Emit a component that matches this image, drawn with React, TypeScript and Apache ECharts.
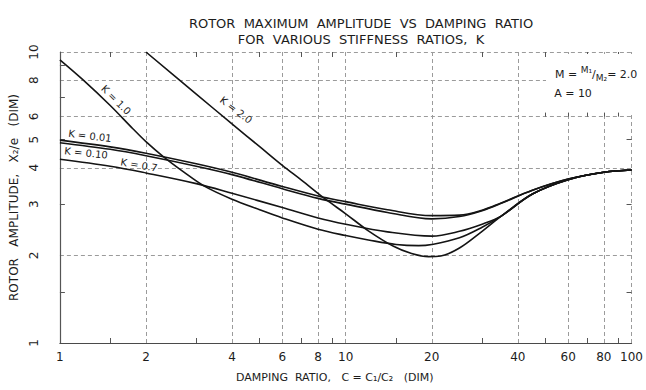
import React, { useEffect, useRef } from "react";
import * as echarts from "echarts";

const FONT = "DejaVu Sans";

const xMajor = [1, 2, 4, 6, 8, 10, 20, 40, 60, 80, 100];
const xMinor = [1.5, 3, 5, 7, 9, 15, 30, 50, 70, 90];
const xInsetTicks = [50, 60, 70, 80, 90];
const yGrid = [1, 2, 4, 6, 8, 10];
const yLabels = [1, 2, 3, 4, 5, 6, 8, 10];
const yMinor = [1.5, 3, 5, 7, 9];

const xFlat = [1, 1.5, 2, 3, 4, 6, 8, 10, 14, 20, 25, 30, 35, 45, 60, 80, 100];
const k001 = [4.98, 4.72, 4.49, 4.13, 3.86, 3.45, 3.2, 3.06, 2.87, 2.74, 2.75, 2.86, 3.03, 3.35, 3.66, 3.86, 3.93];
const k010 = [4.88, 4.63, 4.4, 4.05, 3.79, 3.39, 3.14, 3.0, 2.81, 2.67, 2.72, 2.85, 3.02, 3.35, 3.66, 3.86, 3.93];
const k07 = [4.28, 4.05, 3.84, 3.53, 3.27, 2.92, 2.69, 2.56, 2.41, 2.33, 2.42, 2.56, 2.73, 3.25, 3.64, 3.86, 3.93];

const xK10 = [1, 1.2, 1.5, 1.8, 2, 2.3, 2.7, 3.2, 4, 5, 6, 8, 10, 12, 15, 18, 20, 25, 30, 35, 45, 60, 80, 100];
const k10 = [9.4, 8.05, 6.55, 5.45, 4.92, 4.37, 3.88, 3.46, 3.12, 2.87, 2.69, 2.46, 2.34, 2.26, 2.18, 2.16, 2.18, 2.3, 2.5, 2.73, 3.25, 3.64, 3.86, 3.93];

const xK20 = [2, 3, 4, 5, 6, 7, 8.5, 10, 12, 14.7, 17, 19.5, 21.5, 25, 30, 35, 45, 60, 80, 100];
const k20 = [10, 7.17, 5.66, 4.73, 4.08, 3.63, 3.12, 2.78, 2.43, 2.15, 2.03, 1.98, 1.99, 2.12, 2.42, 2.73, 3.25, 3.64, 3.86, 3.93];

const pairs = (xs: number[], ys: number[]) => xs.map((x, i) => [x, ys[i]]);

const lineSeries = (name: string, xs: number[], ys: number[]) => ({
  name,
  type: "line",
  xAxisIndex: 0,
  yAxisIndex: 0,
  data: pairs(xs, ys),
  smooth: 0.35,
  showSymbol: false,
  symbol: "none",
  lineStyle: { color: "#141414", width: 1.6 },
  z: 5,
});

const gridLine = { show: true, lineStyle: { color: "#9b9b9b", width: 1, type: [4, 3] } };

const tickAxis = (type: "x" | "y", position: string, values: number[], extra: any = {}) => ({
  type: "log",
  logBase: 10,
  min: 1,
  max: type === "x" ? 100 : 10,
  position,
  axisLine: { show: false },
  axisTick: { show: true, inside: true, length: 5, customValues: values, lineStyle: { color: "#555" } },
  axisLabel: { show: false },
  splitLine: { show: false },
  ...extra,
});

export default function App() {
  const ref = useRef<HTMLDivElement>(null);
  useEffect(() => {
    if (!ref.current) return;
    const chart = echarts.init(ref.current, undefined, { renderer: "svg" });
    const txt = (text: string, x: number, y: number, rotDeg: number, size = 10) => ({
      type: "text",
      x,
      y,
      rotation: (rotDeg * Math.PI) / 180,
      z: 10,
      style: {
        text,
        fontSize: size,
        fontFamily: FONT,
        fill: "#1c1c1c",
        align: "center",
        verticalAlign: "middle",
      },
    });
    chart.setOption({
      animation: false,
      backgroundColor: "#ffffff",
      title: {
        text: "ROTOR  MAXIMUM  AMPLITUDE  VS  DAMPING  RATIO\nFOR  VARIOUS  STIFFNESS  RATIOS,  K",
        left: 356,
        top: 10,
        textAlign: "center",
        textStyle: { fontSize: 13, fontWeight: "normal", fontFamily: FONT, color: "#1c1c1c", lineHeight: 16 },
      },
      grid: { left: 56, right: 10, top: 52, bottom: 47, containLabel: false },
      xAxis: [
        {
          type: "log",
          logBase: 10,
          min: 1,
          max: 100,
          position: "bottom",
          axisLine: { show: true, lineStyle: { color: "#4a4a4a", width: 1.2 } },
          axisTick: { show: false, customValues: xMajor },
          axisLabel: {
            customValues: xMajor,
            formatter: (v: number) => String(v),
            color: "#1c1c1c",
            fontSize: 12,
            fontFamily: FONT,
            margin: 8,
          },
          splitLine: gridLine,
          name: "DAMPING  RATIO,   C = C₁/C₂   (DIM)",
          nameLocation: "middle",
          nameGap: 29,
          nameTextStyle: { fontSize: 11, fontFamily: FONT, color: "#1c1c1c", padding: [0, 22, 0, 0] },
        },
        tickAxis("x", "bottom", xMinor),
        tickAxis("x", "top", xMinor),
        tickAxis("x", "top", xInsetTicks, {
          offset: -64.6,
          z: 3,
          axisTick: { show: true, inside: false, length: 4, customValues: xInsetTicks, lineStyle: { color: "#555" } },
        }),
      ],
      yAxis: [
        {
          type: "log",
          logBase: 10,
          min: 1,
          max: 10,
          position: "left",
          axisLine: { show: true, lineStyle: { color: "#555", width: 1.2 } },
          axisTick: { show: false, customValues: yGrid },
          axisLabel: {
            customValues: yLabels,
            formatter: (v: number) => String(v),
            rotate: 90,
            margin: 20,
            color: "#1c1c1c",
            fontSize: 12,
            fontFamily: FONT,
          },
          splitLine: gridLine,
          name: "ROTOR   AMPLITUDE,   X₂/e   (DIM)",
          nameLocation: "middle",
          nameGap: 37,
          nameTextStyle: { fontSize: 12, fontFamily: FONT, color: "#1c1c1c" },
        },
        tickAxis("y", "left", yMinor),
        tickAxis("y", "right", yMinor),
      ],
      series: [
        lineSeries("K = 0.01", xFlat, k001),
        lineSeries("K = 0.10", xFlat, k010),
        lineSeries("K = 0.7", xFlat, k07),
        lineSeries("K = 1.0", xK10, k10),
        lineSeries("K = 2.0", xK20, k20),
      ],
      graphic: [
        {
          type: "rect",
          z: 1,
          shape: { x: 546, y: 54, width: 87, height: 61 },
          style: { fill: "#ffffff" },
        },
        txt("K = 1.0", 116, 100, -45),
        txt("K = 2.0", 236, 110, -37),
        txt("K = 0.01", 90, 136, -7),
        txt("K = 0.10", 86, 153, -6),
        txt("K = 0.7", 139, 165, -10),
        {
          type: "text",
          x: 555,
          y: 74,
          z: 10,
          style: {
            text: "{n|M = }{u|M₁}{n|/}{d|M₂}{n|= 2.0}",
            fontFamily: FONT,
            fill: "#1c1c1c",
            align: "left",
            verticalAlign: "middle",
            rich: {
              n: { fontSize: 11, fontFamily: FONT, fill: "#1c1c1c" },
              u: { fontSize: 9, fontFamily: FONT, fill: "#1c1c1c", padding: [0, 0, 8, 0] },
              d: { fontSize: 9, fontFamily: FONT, fill: "#1c1c1c", padding: [8, 0, 0, 0] },
            },
          },
        },
        txt("A = 10", 573, 93, 0, 11),
      ],
    });
    return () => chart.dispose();
  }, []);
  return (
    <div
      ref={ref}
      style={{ position: "absolute", left: 0, top: 0, width: 646, height: 390 }}
    />
  );
}
